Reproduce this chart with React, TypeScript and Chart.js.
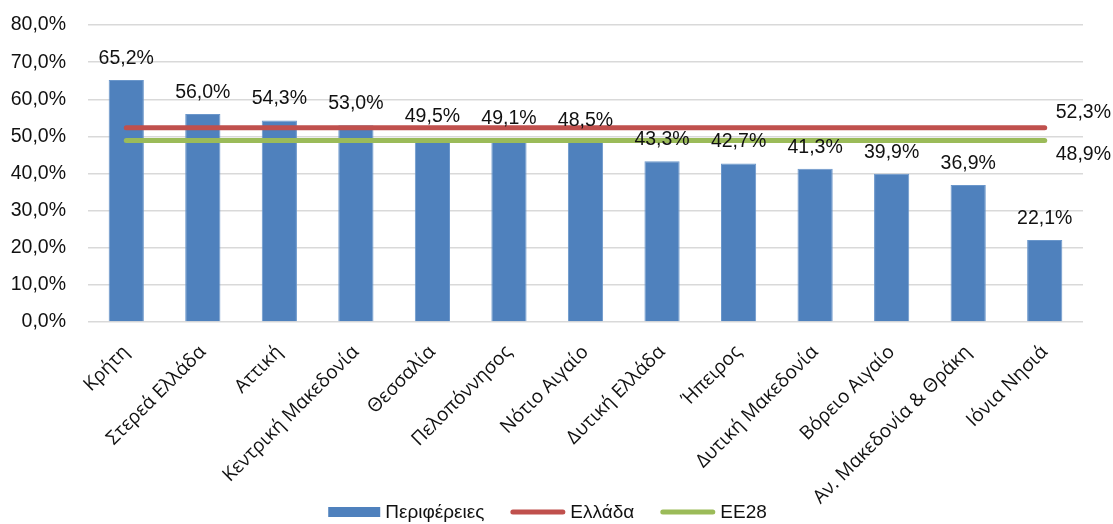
import React, { useEffect, useRef } from "react";
import { Chart, registerables } from "chart.js";

Chart.register(...registerables);

const categories = [
  "Κρήτη",
  "Στερεά Ελλάδα",
  "Αττική",
  "Κεντρική Μακεδονία",
  "Θεσσαλία",
  "Πελοπόννησος",
  "Νότιο Αιγαίο",
  "Δυτική Ελλάδα",
  "Ήπειρος",
  "Δυτική Μακεδονία",
  "Βόρειο Αιγαίο",
  "Αν. Μακεδονία & Θράκη",
  "Ιόνια Νησιά",
];
const regionValues = [65.2, 56.0, 54.3, 53.0, 49.5, 49.1, 48.5, 43.3, 42.7, 41.3, 39.9, 36.9, 22.1];
const greeceValues = [52.3, 52.3, 52.3, 52.3, 52.3, 52.3, 52.3, 52.3, 52.3, 52.3, 52.3, 52.3, 52.3];
const eu28Values = [48.9, 48.9, 48.9, 48.9, 48.9, 48.9, 48.9, 48.9, 48.9, 48.9, 48.9, 48.9, 48.9];
const seriesNames = ["Περιφέρειες", "Ελλάδα", "ΕΕ28"];
const yMin = 0;
const yMax = 80;
const yStep = 10;

const BLUE = "#4F81BD";
const RED = "#C0504D";
const GREEN = "#9BBB59";
const FONT = '"Liberation Sans", Arial, sans-serif';
const XFONT = '"Open Sans", "Noto Sans", sans-serif';
const TEXT = "#111111";

const fmt = (v: number) => v.toFixed(1).replace(".", ",") + "%";

const labelPlugin = {
  id: "valueLabels",
  afterDatasetsDraw(chart: any) {
    const ctx = chart.ctx;
    ctx.save();
    ctx.font = `19.5px ${FONT}`;
    ctx.fillStyle = TEXT;
    ctx.textAlign = "center";
    ctx.textBaseline = "alphabetic";
    const barMeta = chart.getDatasetMeta(0);
    barMeta.data.forEach((el: any, i: number) => {
      ctx.fillText(fmt(regionValues[i]), el.x, el.y - 16);
    });
    const m1 = chart.getDatasetMeta(1);
    const p1 = m1.data[m1.data.length - 1];
    ctx.textAlign = "left";
    ctx.textBaseline = "bottom";
    ctx.fillText(fmt(greeceValues[greeceValues.length - 1]), p1.x + 11, p1.y - 5);
    const m2 = chart.getDatasetMeta(2);
    const p2 = m2.data[m2.data.length - 1];
    ctx.textBaseline = "top";
    ctx.fillText(fmt(eu28Values[eu28Values.length - 1]), p2.x + 11, p2.y + 4);
    ctx.restore();
  },
  afterDraw(chart: any) {
    const ctx = chart.ctx;
    ctx.save();
    ctx.font = `19px ${FONT}`;
    const boxW = [52, 55, 55];
    const gapText = 5;
    const gapItem = 26;
    const widths = seriesNames.map((n) => ctx.measureText(n).width);
    let total = 0;
    seriesNames.forEach((_, i) => {
      total += boxW[i] + gapText + widths[i];
      if (i < seriesNames.length - 1) total += gapItem;
    });
    let x = (chart.width - total) / 2 - 9;
    const cy = 512;
    const colors = [BLUE, RED, GREEN];
    seriesNames.forEach((n, i) => {
      if (i === 0) {
        ctx.fillStyle = colors[i];
        ctx.fillRect(x, cy - 5, boxW[i], 10);
      } else {
        ctx.strokeStyle = colors[i];
        ctx.lineWidth = 5;
        ctx.lineCap = "round";
        ctx.beginPath();
        ctx.moveTo(x + 2.5, cy);
        ctx.lineTo(x + boxW[i] - 2.5, cy);
        ctx.stroke();
      }
      x += boxW[i] + gapText;
      ctx.fillStyle = TEXT;
      ctx.textAlign = "left";
      ctx.textBaseline = "middle";
      ctx.fillText(n, x, cy + 1);
      x += widths[i] + gapItem;
    });
    ctx.restore();
  },
};

export default function App() {
  const canvasRef = useRef<HTMLCanvasElement | null>(null);

  useEffect(() => {
    document.body.style.margin = "0";
    const canvas = canvasRef.current;
    if (!canvas) return;
    const chart = new Chart(canvas, {
      type: "bar",
      data: {
        labels: categories,
        datasets: [
          {
            type: "bar",
            label: seriesNames[0],
            data: regionValues,
            backgroundColor: BLUE,
            borderColor: "#6B97CB",
            borderWidth: 1,
            barPercentage: 0.46,
            categoryPercentage: 1,
            order: 1,
          },
          {
            type: "line",
            label: seriesNames[1],
            data: greeceValues,
            borderColor: RED,
            backgroundColor: RED,
            borderWidth: 5,
            borderCapStyle: "round",
            pointRadius: 0,
            fill: false,
            order: 0,
          },
          {
            type: "line",
            label: seriesNames[2],
            data: eu28Values,
            borderColor: GREEN,
            backgroundColor: GREEN,
            borderWidth: 5,
            borderCapStyle: "round",
            pointRadius: 0,
            fill: false,
            order: 0,
          },
        ] as any,
      },
      options: {
        animation: false,
        responsive: true,
        maintainAspectRatio: false,
        layout: { padding: { top: 25, right: 30, bottom: 12, left: 0 } },
        plugins: {
          legend: { display: false },
          tooltip: { enabled: false },
        },
        scales: {
          x: {
            grid: { display: false },
            border: { display: false },
            ticks: {
              color: TEXT,
              font: { family: XFONT, size: 19 },
              maxRotation: 45,
              minRotation: 45,
              autoSkip: false,
              padding: 11,
            },
            afterFit: (scale: any) => {
              scale.height = 524 - 12 - 322;
              scale.paddingLeft = 0;
              scale.paddingRight = 0;
            },
          },
          y: {
            min: yMin,
            max: yMax,
            border: { display: false },
            grid: { color: "#D9D9D9", lineWidth: 1.5, drawTicks: false },
            ticks: {
              stepSize: yStep,
              color: TEXT,
              font: { family: FONT, size: 19.5 },
              padding: 22,
              callback: (v: any) => fmt(Number(v)),
            },
            afterFit: (scale: any) => {
              scale.width = 88;
              scale.paddingTop = 0;
              scale.paddingBottom = 0;
            },
          },
        },
      } as any,
      plugins: [labelPlugin],
    });
    return () => chart.destroy();
  }, []);

  return (
    <div style={{ width: 1113, height: 524, position: "relative" }}>
      <canvas ref={canvasRef} />
    </div>
  );
}
